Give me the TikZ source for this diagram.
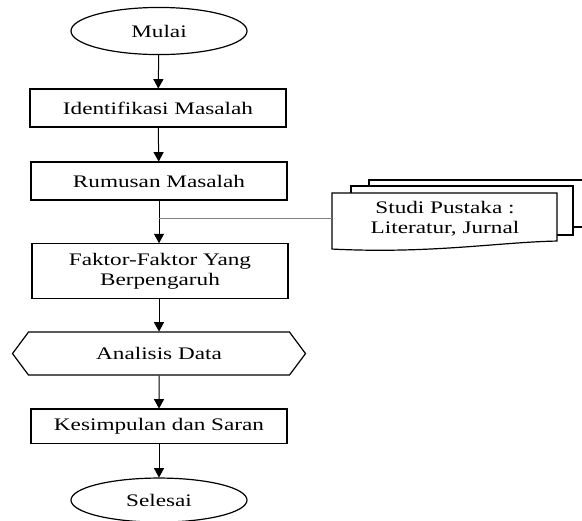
\documentclass[tikz,border=0pt]{standalone}
\usepackage{fontspec}
\setmainfont{Liberation Serif}
\usetikzlibrary{shapes.geometric,shapes.symbols,arrows.meta}

\tikzset{
  huruf/.style={font=\fontsize{11.6}{13.4}\selectfont},
  blok/.style={draw, line width=0.6pt, minimum width=128pt, minimum height=25pt,
    align=center, huruf, transform shape},
  ujung/.style={ellipse, draw, line width=0.6pt, minimum width=88pt,
    minimum height=31pt, huruf, transform shape},
  panah/.style={-{Triangle[length=4.7pt,width=5pt]}, line width=0.5pt},
}

\begin{document}
\begin{tikzpicture}[x=0.5pt, y=-0.658pt, yscale=0.76]
      \useasboundingbox (0,0) rectangle (582,520) ;
      \node[ujung] (mulai) at (159,31) {Mulai} ;
      \node[blok] (identifikasi) at (158,108) {Identifikasi Masalah} ;
      \node[blok] (rumusan) at (159,181) {Rumusan Masalah} ;
      \node[blok, minimum height=36pt] (faktor) at (160,271) %
        {Faktor-Faktor Yang\\Berpengaruh} ;
      \node[signal, signal to=west and east, signal pointer angle=121, draw,
        line width=0.6pt, minimum width=146.5pt, minimum height=28.3pt,
        huruf, transform shape] (analisis) at (159,353.5) {Analisis Data} ;
      \node[blok, minimum height=22.4pt] (kesimpulan) at (159,426) %
        {Kesimpulan dan Saran} ;
      \node[ujung, minimum height=29pt] (selesai) at (159,500) {Selesai} ;
      % tumpukan dokumen
      \begin{scope}
        \clip (0,0) rectangle (582,520) ;
        \filldraw[fill=white, line width=0.6pt] (369,180) rectangle (600,227) ;
        \filldraw[fill=white, line width=0.6pt] (351,186) rectangle (573,235) ;
        \filldraw[fill=white, line width=0.6pt] (332,193) -- (557,193) -- (557,241) %
          .. controls (500,242) and (430,254) .. (332,249) -- cycle ;
      \end{scope}
      \node[huruf, align=center, transform shape] (studi) at (445,219) %
        {Studi Pustaka :\\Literatur, Jurnal} ;
      \coordinate (cabang) at (159,218) ;
      \coordinate (dokumen) at (332,218) ;
      \draw[panah] (mulai) -- (identifikasi) ;
      \draw[panah] (identifikasi) -- (rumusan) ;
      \draw[panah] (rumusan.south) -- (faktor.north -| rumusan.south) ;
      \draw[gray, line width=0.5pt] (cabang) -- (dokumen) ;
      \draw[panah] (faktor.south -| analisis.north) -- (analisis.north) ;
      \draw[panah] (analisis) -- (kesimpulan) ;
      \draw[panah] (kesimpulan) -- (selesai) ;
    \end{tikzpicture}
\end{document}
